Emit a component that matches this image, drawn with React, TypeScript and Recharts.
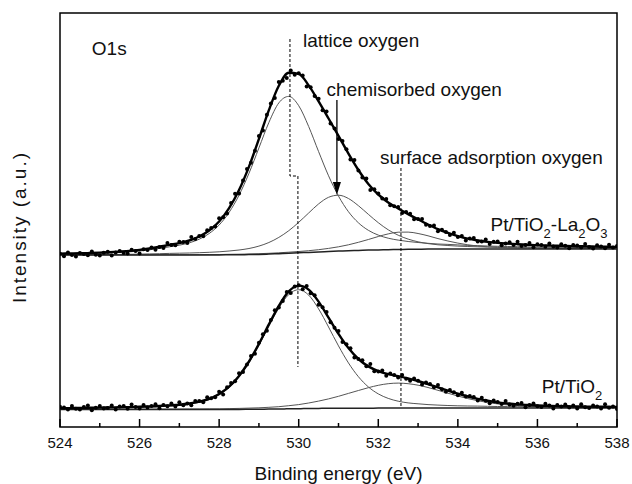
import { ComposedChart, Line, Scatter, XAxis, YAxis, ReferenceArea } from 'recharts';

// Binding-energy grid of the fitted curves (eV)
const fitEnergy = [
  524, 524.25, 524.5, 524.75, 525, 525.25, 525.5, 525.75, 526, 526.25, 526.5, 526.75,
  527, 527.25, 527.5, 527.75, 528, 528.25, 528.5, 528.75, 529, 529.25, 529.5, 529.75,
  530, 530.25, 530.5, 530.75, 531, 531.25, 531.5, 531.75, 532, 532.25, 532.5, 532.75,
  533, 533.25, 533.5, 533.75, 534, 534.25, 534.5, 534.75, 535, 535.25, 535.5, 535.75,
  536, 536.25, 536.5, 536.75, 537, 537.25, 537.5, 537.75, 538,
];

// Pt/TiO2-La2O3 (upper spectrum, offset)
const topBackground = [
  172, 172, 172, 172, 172, 172, 172, 172, 172, 172, 172, 172, 172, 172, 172,
  172.1, 172.1, 172.2, 172.3, 172.4, 172.6, 172.9, 173.3, 173.7, 174.2, 174.6, 175.1,
  175.5, 175.9, 176.3, 176.6, 176.9, 177.1, 177.3, 177.5, 177.7, 177.8, 177.9, 177.9, 178,
  178, 178, 178, 178, 178, 178, 178, 178, 178, 178, 178, 178, 178, 178, 178, 178, 178,
];
const topLattice = [
  173.0, 173.1, 173.3, 173.5, 173.8, 174.1, 174.6, 175.2, 176.0, 177.2, 178.6, 180.2,
  181.8, 184.2, 187.8, 193.5, 202.0, 214.6, 231.8, 253.7, 279.1, 304.5, 324.1, 330.6,
  321.3, 300.5, 275.4, 251.2, 230.9, 215.3, 204.2, 196.7, 191.9, 188.8, 186.9, 185.5,
  184.5, 183.7, 183.0, 182.6, 182.1, 181.6, 181.3, 181.0, 180.7, 180.5, 180.3, 180.1,
  179.9, 179.8, 179.7, 179.6, 179.5, 179.4, 179.3, 179.2, 179.1,
];
const topChemisorbed = [
  172.3, 172.3, 172.4, 172.4, 172.5, 172.5, 172.6, 172.7, 172.9, 173.1, 173.3, 173.6,
  173.8, 174.0, 174.3, 174.7, 175.2, 176.0, 177.0, 178.5, 180.9, 184.5, 189.6, 196.3,
  204.7, 214.0, 223.1, 229.7, 231.8, 228.5, 221.3, 212.7, 204.3, 197.2, 191.8, 187.9,
  185.2, 183.4, 182.2, 181.5, 180.9, 180.5, 180.2, 179.9, 179.7, 179.6, 179.4, 179.3,
  179.1, 179.0, 178.9, 178.9, 178.8, 178.8, 178.7, 178.7, 178.6,
];
const topSurface = [
  172.1, 172.1, 172.1, 172.1, 172.1, 172.2, 172.2, 172.2, 172.2, 172.2, 172.3, 172.3,
  172.3, 172.3, 172.4, 172.5, 172.5, 172.7, 172.8, 173.0, 173.3, 173.7, 174.2, 174.8,
  175.5, 176.3, 177.3, 178.6, 180.2, 182.2, 184.7, 187.5, 190.5, 193.1, 194.8, 194.9,
  193.5, 191.2, 188.4, 186.0, 183.9, 182.2, 181.0, 180.2, 179.7, 179.3, 179.1, 178.9,
  178.8, 178.7, 178.6, 178.6, 178.5, 178.5, 178.4, 178.4, 178.3,
];
const topEnvelope = [
  173.4, 173.5, 173.7, 174.0, 174.4, 174.8, 175.4, 176.1, 177.1, 178.5, 180.2, 182.1,
  183.9, 186.5, 190.5, 196.5, 205.5, 218.9, 237.0, 260.4, 288.1, 316.9, 341.3, 354.3,
  353.1, 341.6, 325.6, 308.5, 291.1, 273.4, 257.0, 243.1, 232.5, 224.5, 218.5, 212.9,
  207.6, 202.5, 197.8, 194.1, 190.9, 188.3, 186.5, 185.1, 184.1, 183.4, 182.8, 182.3,
  181.8, 181.5, 181.2, 181.0, 180.8, 180.6, 180.4, 180.2, 180.0,
];

// Pt/TiO2 (lower spectrum)
const bottomBackground = [
  17.5, 17.5, 17.5, 17.5, 17.5, 17.5, 17.5, 17.5, 17.5, 17.5, 17.5, 17.5, 17.5, 17.5,
  17.5, 17.5, 17.5, 17.6, 17.6, 17.7, 17.8, 17.9, 18.0, 18.2, 18.3, 18.5, 18.6, 18.7,
  18.7, 18.8, 18.8, 18.8, 18.9, 18.9, 18.9, 18.9, 19.0, 19.0, 19, 19, 19, 19, 19, 19,
  19, 19, 19, 19, 19, 19, 19, 19, 19, 19, 19, 19, 19,
];
const bottomMain = [
  18.6, 18.7, 18.8, 18.9, 19.1, 19.2, 19.4, 19.6, 19.8, 20.1, 20.5, 21.0, 21.7, 22.8,
  24.6, 27.4, 32.2, 39.5, 50.1, 64.3, 81.7, 100.8, 118.9, 132.5, 137.3, 131.9, 118.1,
  100.0, 81.1, 64.1, 50.3, 40.1, 33.1, 28.6, 25.8, 24.1, 23.2, 22.4, 21.9, 21.5, 21.2,
  21.0, 20.9, 20.7, 20.5, 20.4, 20.3, 20.2, 20.1, 20.0, 19.9, 19.9, 19.8, 19.8, 19.7,
  19.7, 19.6,
];
const bottomSurface = [
  17.7, 17.7, 17.8, 17.8, 17.8, 17.8, 17.8, 17.8, 17.9, 17.9, 17.9, 18.0, 18.0, 18.1,
  18.1, 18.2, 18.2, 18.4, 18.6, 18.9, 19.2, 19.7, 20.3, 21.3, 22.4, 24.0, 25.9, 28.1,
  30.7, 33.6, 36.5, 39.3, 41.7, 43.3, 43.9, 43.3, 41.8, 39.5, 36.7, 33.8, 31.0, 28.4,
  26.3, 24.5, 23.1, 22.1, 21.3, 20.8, 20.4, 20.2, 20.0, 19.9, 19.7, 19.7, 19.6, 19.6,
  19.5,
];
const bottomEnvelope = [
  18.8, 18.9, 19.1, 19.2, 19.4, 19.6, 19.7, 19.9, 20.3, 20.6, 21.0, 21.6, 22.3, 23.5,
  25.4, 28.1, 32.9, 40.3, 51.1, 65.5, 83.1, 102.6, 121.2, 135.6, 141.4, 137.4, 125.4,
  109.4, 93.1, 78.9, 68.0, 60.6, 55.9, 52.9, 50.8, 48.5, 46.0, 42.9, 39.7, 36.4, 33.3,
  30.5, 28.2, 26.2, 24.6, 23.5, 22.6, 22.0, 21.5, 21.2, 20.9, 20.7, 20.5, 20.4, 20.3,
  20.2, 20.1,
];

// Measured points, 0.1 eV steps
const dotEnergy = [
  524, 524.1, 524.2, 524.3, 524.4, 524.5, 524.6, 524.7, 524.8, 524.9,
  525, 525.1, 525.2, 525.3, 525.4, 525.5, 525.6, 525.7, 525.8, 525.9,
  526, 526.1, 526.2, 526.3, 526.4, 526.5, 526.6, 526.7, 526.8, 526.9,
  527, 527.1, 527.2, 527.3, 527.4, 527.5, 527.6, 527.7, 527.8, 527.9,
  528, 528.1, 528.2, 528.3, 528.4, 528.5, 528.6, 528.7, 528.8, 528.9,
  529, 529.1, 529.2, 529.3, 529.4, 529.5, 529.6, 529.7, 529.8, 529.9,
  530, 530.1, 530.2, 530.3, 530.4, 530.5, 530.6, 530.7, 530.8, 530.9,
  531, 531.1, 531.2, 531.3, 531.4, 531.5, 531.6, 531.7, 531.8, 531.9,
  532, 532.1, 532.2, 532.3, 532.4, 532.5, 532.6, 532.7, 532.8, 532.9,
  533, 533.1, 533.2, 533.3, 533.4, 533.5, 533.6, 533.7, 533.8, 533.9,
  534, 534.1, 534.2, 534.3, 534.4, 534.5, 534.6, 534.7, 534.8, 534.9,
  535, 535.1, 535.2, 535.3, 535.4, 535.5, 535.6, 535.7, 535.8, 535.9,
  536, 536.1, 536.2, 536.3, 536.4, 536.5, 536.6, 536.7, 536.8, 536.9,
  537, 537.1, 537.2, 537.3, 537.4, 537.5, 537.6, 537.7, 537.8, 537.9,
  538,
];
const topCounts = [
  173.2, 170.8, 174.4, 172.1, 170.5, 173.9, 173.1, 171.8, 175.5, 172.3,
  171.6, 174.2, 175.2, 171.6, 174.4, 176.1, 174.0, 173.6, 177.3, 176.1,
  173.6, 177.8, 176.9, 179.6, 177.3, 180.1, 179.0, 183.9, 181.9, 181.7,
  185.2, 185.0, 184.1, 189.9, 187.9, 191.0, 190.7, 196.7, 199.0, 200.6,
  208.7, 209.7, 213.6, 224.0, 233.3, 233.4, 246.4, 258.1, 264.2, 276.2,
  291.0, 296.6, 312.3, 323.6, 329.1, 345.1, 346.2, 349.0, 356.4, 352.2,
  353.7, 351.5, 340.4, 339.8, 331.1, 328.2, 316.7, 315.5, 303.5, 298.6,
  287.9, 286.0, 277.8, 267.5, 266.9, 256.4, 249.6, 248.6, 237.1, 237.8,
  233.6, 228.5, 228.1, 221.8, 220.8, 220.1, 214.1, 214.9, 213.2, 207.8,
  208.1, 207.9, 202.2, 200.9, 201.4, 195.8, 197.3, 195.0, 191.9, 194.3,
  190.0, 191.1, 186.4, 188.5, 189.1, 185.4, 185.6, 187.6, 183.1, 185.3,
  185.6, 181.7, 183.6, 184.7, 182.0, 185.3, 181.0, 181.9, 184.0, 179.8,
  182.7, 182.1, 180.2, 183.4, 180.5, 179.5, 182.7, 181.3, 178.7, 182.0,
  181.5, 179.5, 183.0, 180.0, 178.6, 181.7, 180.5, 178.7, 182.3, 179.4,
  181.0,
];
const bottomCounts = [
  20.2, 19.5, 17.6, 21.0, 18.2, 17.4, 20.1, 21.5, 16.8, 19.3,
  21.0, 18.4, 19.0, 21.5, 17.6, 20.5, 21.0, 18.3, 22.5, 19.9,
  18.5, 21.9, 19.6, 21.1, 22.8, 18.7, 22.1, 20.8, 23.4, 20.6,
  24.7, 21.8, 23.5, 21.7, 25.9, 26.0, 24.8, 29.8, 28.7, 29.8,
  35.2, 32.5, 39.7, 43.9, 45.8, 53.7, 54.9, 62.5, 71.1, 73.2,
  84.3, 92.7, 96.2, 107.0, 116.8, 119.5, 126.0, 134.9, 134.1, 140.4,
  141.7, 137.7, 140.9, 133.8, 131.8, 122.3, 119.8, 115.1, 104.7, 99.2,
  96.0, 85.1, 82.7, 78.7, 69.6, 68.1, 66.8, 60.8, 62.9, 55.7,
  55.4, 56.5, 51.3, 53.4, 52.0, 49.4, 51.9, 48.2, 46.3, 48.6,
  46.3, 42.5, 44.6, 43.0, 39.8, 42.1, 37.8, 35.2, 37.1, 34.7,
  31.8, 34.3, 30.4, 31.0, 29.9, 26.6, 29.3, 26.2, 23.8, 26.4,
  24.9, 23.1, 26.1, 22.4, 21.2, 23.2, 23.9, 19.8, 22.1, 23.4,
  20.8, 20.0, 23.3, 21.5, 18.5, 22.0, 20.5, 22.5, 19.5, 21.5,
  18.5, 22.7, 19.8, 18.9, 21.6, 20.4, 18.4, 22.8, 19.2, 20.6,
  17.9,
];

// Peak-position markers
const latticeMarkerE = [529.78, 529.78, 529.98, 529.98];
const latticeMarkerV = [388, 251, 251, 60];
const surfaceMarkerE = [532.57, 532.57];
const surfaceMarkerV = [259, 20];
const arrowE = [530.96, 530.96];
const arrowV = [327, 240];
const arrowTip = [{ e: 530.96, v: 232 }];

const xTicks = [524, 525, 526, 527, 528, 529, 530, 531, 532, 533, 534, 535, 536, 537, 538];

// Text labels, anchored at their left baseline
const noteText = ['O1s', 'lattice oxygen', 'chemisorbed oxygen', 'surface adsorption oxygen'];
const noteE = [524.8, 530.11, 530.7, 532.04];
const noteV = [372, 380, 331, 263];
// sample names: odd parts are subscripts
const sampleParts = [
  ['Pt/TiO', '2', '-La', '2', 'O', '3'],
  ['Pt/TiO', '2'],
];
const sampleE = [534.82, 536.11];
const sampleV = [196, 34];

const FONT = 'Arial, "Liberation Sans", Helvetica, sans-serif';

const toRows = (xs: number[], ys: number[]) => xs.map((e, i) => ({ e, v: ys[i] }));

const notes = noteText.map((text, i) => ({ e: noteE[i], v: noteV[i], text }));
const samples = sampleParts.map((parts, i) => ({ e: sampleE[i], v: sampleV[i], parts }));

const NoteLabel = (props: any) => (
  <text x={props.cx} y={props.cy} fontSize={19} fontFamily={FONT} fill="#111">
    {props.payload.text}
  </text>
);

const SampleLabel = (props: any) => {
  const parts: string[] = props.payload.parts;
  return (
    <text x={props.cx} y={props.cy} fontSize={19} fontFamily={FONT} fill="#111">
      {parts.map((p, i) =>
        i % 2 === 1 ? (
          <tspan key={i} fontSize={13} dy={7}>{p}</tspan>
        ) : (
          <tspan key={i} dy={i === 0 ? 0 : -7}>{p}</tspan>
        )
      )}
    </text>
  );
};

const ArrowHead = (props: any) => {
  const { cx, cy } = props;
  return <polygon points={`${cx},${cy} ${cx - 4},${cy - 13} ${cx + 4},${cy - 13}`} fill="#000" />;
};

const Dot = (props: any) => <circle cx={props.cx} cy={props.cy} r={2} fill="#000" />;

const EnergyTick = (props: any) => {
  const { x, y, payload } = props;
  const major = payload.value % 2 === 0;
  return (
    <g>
      <line x1={x} y1={y} x2={x} y2={y - (major ? 8 : 4)} stroke="#000" strokeWidth={1.5} />
      {major && (
        <text x={x} y={y + 21} textAnchor="middle" fontSize={15} fontFamily={FONT} fill="#111">
          {payload.value}
        </text>
      )}
    </g>
  );
};

const IntensityLabel = (props: any) => {
  const vb = props.viewBox;
  const x = vb.x + 26;
  const y = vb.y + vb.height / 2 + 8;
  return (
    <text
      x={x}
      y={y}
      transform={`rotate(-90 ${x} ${y})`}
      textAnchor="middle"
      fontSize={19}
      fontFamily={FONT}
      fill="#111"
      textLength={150}
      lengthAdjust="spacing"
    >
      Intensity (a.u.)
    </text>
  );
};

const thin = { stroke: '#555', strokeWidth: 1, dot: false, activeDot: false, isAnimationActive: false, type: 'monotone' as const };

export default function App() {
  return (
    <div style={{ position: 'absolute', left: 0, top: 0, background: '#fff' }}>
      <ComposedChart width={632} height={484} margin={{ top: 13, right: 15, bottom: 0, left: 0 }}>
        <XAxis
          dataKey="e"
          type="number"
          domain={[524, 538]}
          ticks={xTicks}
          interval={0}
          allowDataOverflow
          height={57}
          axisLine={false}
          tickLine={false}
          tickSize={0}
          tickMargin={0}
          tick={<EnergyTick />}
          label={{ value: 'Binding energy (eV)', position: 'insideBottom', offset: 4, fontSize: 19, fontFamily: FONT, fill: '#111' }}
        />
        <YAxis
          dataKey="v"
          type="number"
          domain={[0, 414]}
          allowDataOverflow
          width={60}
          tick={false}
          axisLine={false}
          tickLine={false}
          label={{ content: <IntensityLabel /> }}
        />

        {/* fitted components */}
        <Line data={toRows(fitEnergy, topLattice)} dataKey="v" {...thin} />
        <Line data={toRows(fitEnergy, topChemisorbed)} dataKey="v" {...thin} />
        <Line data={toRows(fitEnergy, topSurface)} dataKey="v" {...thin} />
        <Line data={toRows(fitEnergy, bottomMain)} dataKey="v" {...thin} />
        <Line data={toRows(fitEnergy, bottomSurface)} dataKey="v" {...thin} />

        {/* backgrounds */}
        <Line data={toRows(fitEnergy, topBackground)} dataKey="v" {...thin} stroke="#222" strokeWidth={1.5} />
        <Line data={toRows(fitEnergy, bottomBackground)} dataKey="v" {...thin} stroke="#222" strokeWidth={1.5} />

        {/* measured data */}
        <Scatter data={toRows(dotEnergy, topCounts)} dataKey="v" shape={<Dot />} isAnimationActive={false} />
        <Scatter data={toRows(dotEnergy, bottomCounts)} dataKey="v" shape={<Dot />} isAnimationActive={false} />

        {/* fit envelopes */}
        <Line data={toRows(fitEnergy, topEnvelope)} dataKey="v" {...thin} stroke="#000" strokeWidth={2.4} />
        <Line data={toRows(fitEnergy, bottomEnvelope)} dataKey="v" {...thin} stroke="#000" strokeWidth={2.4} />

        {/* peak markers */}
        <Line data={toRows(latticeMarkerE, latticeMarkerV)} dataKey="v" type="linear" stroke="#000" strokeWidth={1} strokeDasharray="3 2" dot={false} activeDot={false} isAnimationActive={false} />
        <Line data={toRows(surfaceMarkerE, surfaceMarkerV)} dataKey="v" type="linear" stroke="#000" strokeWidth={1} strokeDasharray="3 2" dot={false} activeDot={false} isAnimationActive={false} />
        <Line data={toRows(arrowE, arrowV)} dataKey="v" type="linear" stroke="#000" strokeWidth={1.3} dot={false} activeDot={false} isAnimationActive={false} />
        <Scatter data={arrowTip} dataKey="v" shape={<ArrowHead />} isAnimationActive={false} />

        {/* labels */}
        <Scatter data={notes} dataKey="v" shape={<NoteLabel />} isAnimationActive={false} />
        <Scatter data={samples} dataKey="v" shape={<SampleLabel />} isAnimationActive={false} />

        <ReferenceArea x1={524} x2={538} y1={0} y2={414} fill="none" fillOpacity={0} stroke="#000" strokeWidth={1.5} ifOverflow="visible" />
      </ComposedChart>
    </div>
  );
}
